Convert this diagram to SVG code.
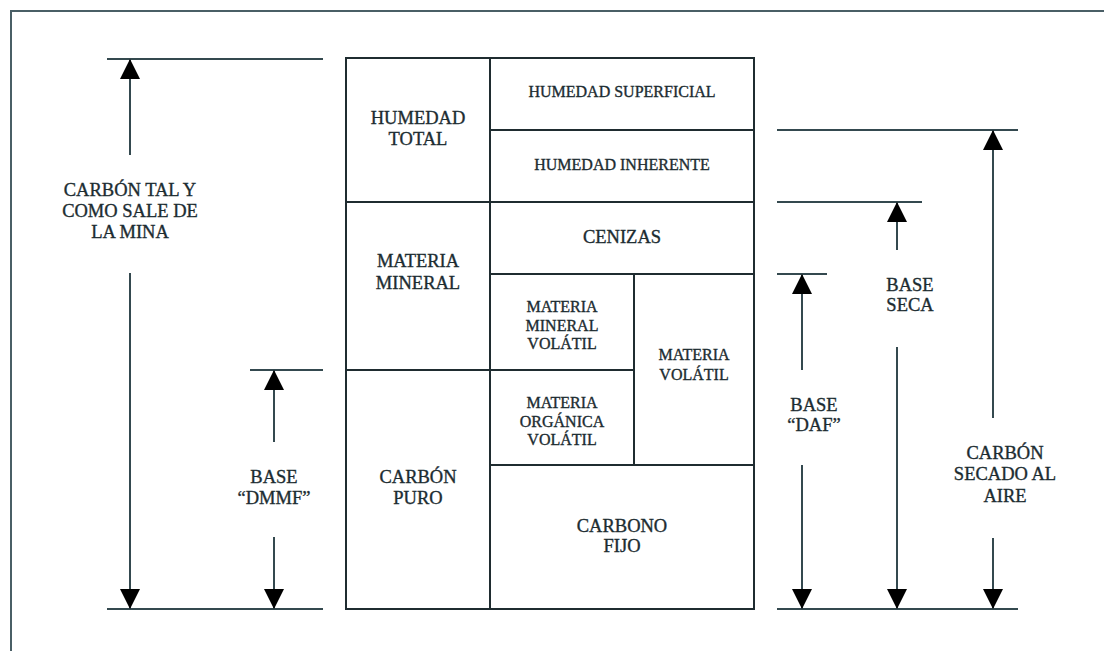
<svg xmlns="http://www.w3.org/2000/svg" width="1104" height="651" viewBox="0 0 1104 651">
  <style>
    .frame { stroke: #4a5f66; stroke-width: 2; fill: none; }
    .box { stroke: #1f2c30; stroke-width: 2; fill: none; }
    .dim { stroke: #34494f; stroke-width: 2; fill: none; }
    .arr { stroke: #34494f; stroke-width: 2; fill: none; marker-end: url(#ah); }
    text { font-family: "Liberation Serif", "Times New Roman", serif; fill: #1c2c31; stroke: #1c2c31; stroke-width: 0.35; text-anchor: middle; }
    .lg { font-size: 18.5px; }
    .sm { font-size: 16px; }
  </style>
  <defs>
    <marker id="ah" markerUnits="userSpaceOnUse" markerWidth="20" markerHeight="20" viewBox="0 0 20 20" refX="20" refY="10" orient="auto">
      <path d="M0,0 L20,10 L0,20 z" fill="#000"/>
    </marker>
  </defs>
  <rect width="1104" height="651" fill="#fff"/>
  <g id="frame">
    <path class="frame" d="M11,651 L11,11 L1104,11"/>
  </g>

  <g id="table">
    <rect class="box" x="346" y="58" width="408" height="551"/>
    <path class="box" d="M490,58 V609 M490,130 H754 M346,202 H754 M490,274 H754 M346,370 H634 M490,465 H754 M634,274 V465"/>
  </g>

  <g id="humedad-total"><text class="lg" x="418" y="124">HUMEDAD</text><text class="lg" x="418" y="145">TOTAL</text></g>
  <g id="humedad-superficial"><text class="sm" x="622" y="97">HUMEDAD SUPERFICIAL</text></g>
  <g id="humedad-inherente"><text class="sm" x="622" y="170">HUMEDAD INHERENTE</text></g>
  <g id="cenizas"><text class="lg" x="622" y="243">CENIZAS</text></g>
  <g id="materia-mineral"><text class="lg" x="418" y="267">MATERIA</text><text class="lg" x="418" y="289">MINERAL</text></g>
  <g id="materia-mineral-volatil"><text class="sm" x="562" y="312">MATERIA</text><text class="sm" x="562" y="331">MINERAL</text><text class="sm" x="562" y="349">VOLÁTIL</text></g>
  <g id="materia-volatil"><text class="sm" x="694" y="360">MATERIA</text><text class="sm" x="694" y="380">VOLÁTIL</text></g>
  <g id="materia-organica-volatil"><text class="sm" x="562" y="408">MATERIA</text><text class="sm" x="562" y="427">ORGÁNICA</text><text class="sm" x="562" y="445">VOLÁTIL</text></g>
  <g id="carbon-puro"><text class="lg" x="418" y="483">CARBÓN</text><text class="lg" x="418" y="504">PURO</text></g>
  <g id="carbono-fijo"><text class="lg" x="622" y="532">CARBONO</text><text class="lg" x="622" y="552">FIJO</text></g>

  <g id="label-mina"><text class="lg" x="130" y="196">CARBÓN TAL Y</text><text class="lg" x="130" y="217">COMO SALE DE</text><text class="lg" x="130" y="238">LA MINA</text></g>
  <g id="label-dmmf"><text class="lg" x="274" y="483">BASE</text><text class="lg" x="274" y="504">“DMMF”</text></g>
  <g id="label-daf"><text class="lg" x="814" y="411">BASE</text><text class="lg" x="814" y="431">“DAF”</text></g>
  <g id="label-seca"><text class="lg" x="910" y="291">BASE</text><text class="lg" x="910" y="311">SECA</text></g>
  <g id="label-aire"><text class="lg" x="1005" y="459">CARBÓN</text><text class="lg" x="1005" y="480">SECADO AL</text><text class="lg" x="1005" y="502">AIRE</text></g>

  <g id="connectors">
    <path class="dim" d="M107,59 H323 M107,609 H323 M250,370 H323 M777,130 H1018 M777,202 H922 M777,274 H827 M777,609 H1018"/>
    <line class="arr" x1="130" y1="155" x2="130" y2="59"/>
    <line class="arr" x1="130" y1="273" x2="130" y2="609"/>
    <line class="arr" x1="274" y1="442" x2="274" y2="370"/>
    <line class="arr" x1="274" y1="537" x2="274" y2="609"/>
    <line class="arr" x1="802" y1="370" x2="802" y2="274"/>
    <line class="arr" x1="802" y1="465" x2="802" y2="609"/>
    <line class="arr" x1="897" y1="250" x2="897" y2="202"/>
    <line class="arr" x1="897" y1="347" x2="897" y2="609"/>
    <line class="arr" x1="993" y1="418" x2="993" y2="130"/>
    <line class="arr" x1="993" y1="538" x2="993" y2="609"/>
  </g>
</svg>
